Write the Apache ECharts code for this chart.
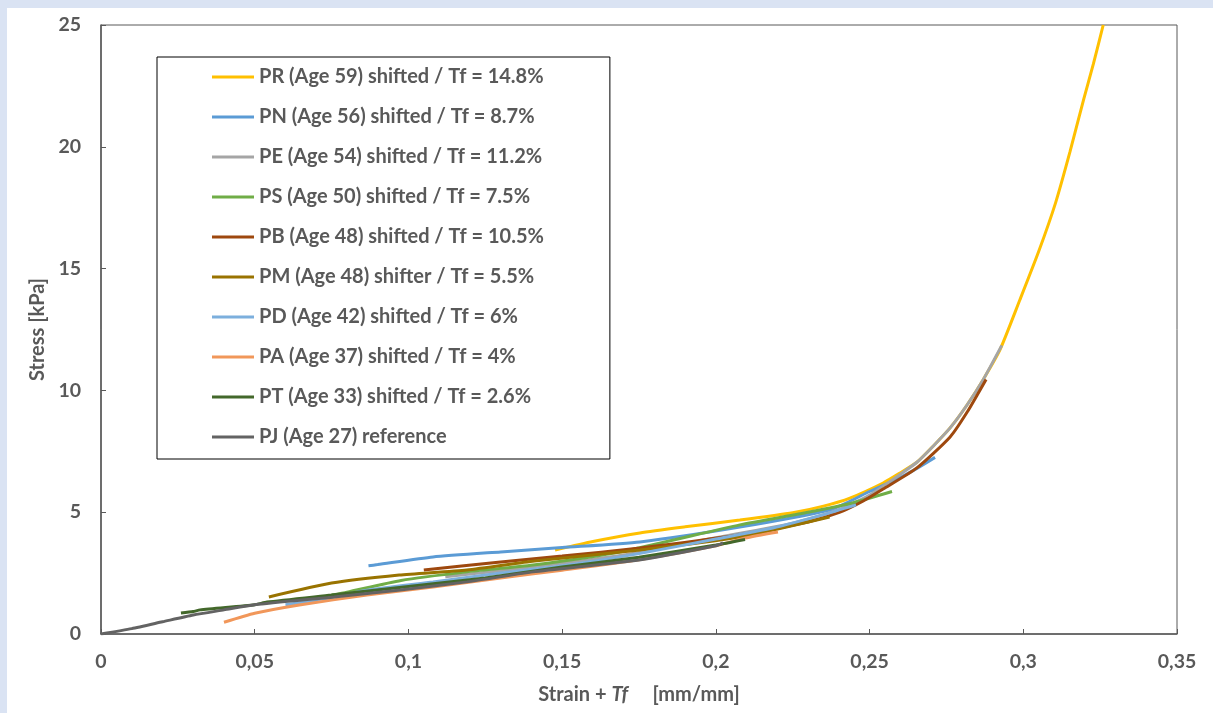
<!DOCTYPE html>
<html><head><meta charset="utf-8">
<script src="https://cdn.jsdelivr.net/npm/echarts@6/dist/echarts.min.js"></script>
<style>
html,body{margin:0;padding:0;background:#DAE3F3;width:1213px;height:713px;overflow:hidden}
#chart{position:absolute;left:7px;top:8px;width:1206px;height:705px;background:#fff}
</style></head><body><div id="chart"></div>
<script>
// ---- data (strain + Tf [mm/mm], stress [kPa]) ----
const seriesNames = [
  'PR (Age 59) shifted / Tf = 14.8%',
  'PN (Age 56) shifted / Tf = 8.7%',
  'PE (Age 54) shifted / Tf = 11.2%',
  'PS (Age 50) shifted / Tf = 7.5%',
  'PB (Age 48) shifted / Tf = 10.5%',
  'PM (Age 48) shifter / Tf = 5.5%',
  'PD (Age 42) shifted / Tf = 6%',
  'PA (Age 37) shifted / Tf = 4%',
  'PT (Age 33) shifted / Tf = 2.6%',
  'PJ (Age 27) reference'
];
const PR = [[0.1477,3.45],[0.160,3.80],[0.1753,4.15],[0.190,4.40],[0.2078,4.68],[0.225,4.98],[0.235,5.25],[0.2436,5.58],[0.2544,6.20],[0.2599,6.61],[0.2654,7.05],[0.2706,7.70],[0.2762,8.46],[0.2817,9.40],[0.2869,10.43],[0.2924,11.66],[0.2989,13.72],[0.3050,15.70],[0.3105,17.70],[0.3152,19.80],[0.3196,21.93],[0.3228,23.40],[0.3260,25.0]];
const PN = [[0.087,2.80],[0.090,2.85],[0.108,3.16],[0.130,3.37],[0.150,3.55],[0.1753,3.78],[0.2078,4.39],[0.2370,5.09],[0.2436,5.45],[0.2500,5.85],[0.2599,6.42],[0.2654,6.80],[0.2713,7.25]];
const PE = [[0.112,2.35],[0.130,2.60],[0.150,2.90],[0.175,3.35],[0.200,3.95],[0.225,4.55],[0.240,5.10],[0.250,5.70],[0.2599,6.55],[0.2654,7.05],[0.2706,7.70],[0.2762,8.46],[0.2817,9.40],[0.2869,10.43],[0.2930,11.85]];
const PS = [[0.075,1.60],[0.080,1.72],[0.0976,2.20],[0.119,2.55],[0.1405,2.83],[0.170,3.40],[0.2078,4.48],[0.230,5.00],[0.245,5.40],[0.2573,5.85]];
const PB = [[0.105,2.63],[0.130,2.96],[0.150,3.20],[0.1753,3.53],[0.2078,4.07],[0.2300,4.60],[0.2404,5.00],[0.2478,5.45],[0.2544,5.95],[0.2654,6.82],[0.2762,8.09],[0.2817,9.10],[0.2879,10.45]];
const PM = [[0.0546,1.52],[0.075,2.09],[0.097,2.42],[0.119,2.63],[0.141,3.00],[0.1753,3.45],[0.2078,3.98],[0.2370,4.80]];
const PD = [[0.060,1.20],[0.075,1.50],[0.0865,1.80],[0.108,2.14],[0.130,2.50],[0.150,2.80],[0.175,3.30],[0.200,3.90],[0.2185,4.35],[0.235,4.90],[0.2456,5.30]];
const PA = [[0.040,0.48],[0.050,0.85],[0.0645,1.19],[0.0865,1.60],[0.108,1.93],[0.130,2.30],[0.150,2.62],[0.175,3.05],[0.200,3.62],[0.2095,3.94],[0.2202,4.19]];
const PT = [[0.026,0.86],[0.030,0.92],[0.0322,0.99],[0.050,1.20],[0.054,1.31],[0.075,1.60],[0.100,1.95],[0.125,2.30],[0.150,2.75],[0.175,3.15],[0.200,3.65],[0.2095,3.88]];
const PJ = [[0,0],[0.010,0.22],[0.020,0.50],[0.030,0.78],[0.040,0.99],[0.050,1.20],[0.0758,1.52],[0.0973,1.81],[0.119,2.14],[0.1405,2.55],[0.175,3.04],[0.200,3.62],[0.2023,3.74]];
const seriesData = [PR, PN, PE, PS, PB, PM, PD, PA, PT, PJ];
const xTicks = { min: 0, max: 0.35, step: 0.05 };
const yTicks = { min: 0, max: 25, step: 5 };

// ---- styles ----
const seriesColors = ['#FFC000','#5B9BD5','#A5A5A5','#70AD47','#9E480E','#997300','#7CAFDD','#F1975A','#43682B','#636363'];
const FONT = 'Lato';
const TXT = '#595959';
const fmt = v => String(+(+v).toFixed(2)).replace('.', ',');

const chart = echarts.init(document.getElementById('chart'), null, {renderer:'canvas'});
chart.setOption({
  animation: false,
  backgroundColor: '#ffffff',
  grid: { left: 94, right: 36, top: 17, bottom: 79, show: true, borderColor: '#595959', borderWidth: 1, backgroundColor: 'transparent' },
  legend: {
    orient: 'vertical', left: 150, top: 49,
    padding: [10, 66, 12, 55], itemGap: 20, itemWidth: 42, itemHeight: 3,
    icon: 'rect',
    borderColor: '#000', borderWidth: 1, backgroundColor: '#fff',
    textStyle: { fontFamily: FONT, fontWeight: 'bold', fontSize: 20, lineHeight: 20, color: TXT },
    data: seriesNames
  },
  xAxis: {
    type: 'value', min: xTicks.min, max: xTicks.max, interval: xTicks.step,
    axisLine: { lineStyle: { color: '#595959', width: 1.5 } },
    axisTick: { inside: true, length: 5, lineStyle: { color: '#595959' } },
    axisLabel: { margin: 18, formatter: fmt, fontFamily: FONT, fontWeight: 'bold', fontSize: 19.5, color: TXT },
    splitLine: { show: false },
    name: '{a|Strain + }{b|Tf}{a|     [mm/mm]}', nameLocation: 'middle', nameGap: 51,
    nameTextStyle: { fontFamily: FONT, fontWeight: 'bold', fontSize: 20, color: TXT,
      rich: { a: { fontFamily: FONT, fontWeight: 'bold', fontSize: 20, color: TXT },
              b: { fontFamily: FONT, fontWeight: 'bold', fontStyle: 'italic', fontSize: 20, color: TXT } } }
  },
  yAxis: {
    type: 'value', min: yTicks.min, max: yTicks.max, interval: yTicks.step,
    axisLine: { show: true, lineStyle: { color: '#595959', width: 1.5 } },
    axisTick: { show: true, inside: true, length: 5, lineStyle: { color: '#595959' } },
    axisLabel: { margin: 20, formatter: fmt, fontFamily: FONT, fontWeight: 'bold', fontSize: 19.5, color: TXT },
    splitLine: { show: false },
    name: 'Stress [kPa]', nameLocation: 'middle', nameGap: 51, nameRotate: 90,
    nameTextStyle: { fontFamily: FONT, fontWeight: 'bold', fontSize: 20, color: TXT }
  },
  series: seriesNames.map((n, i) => ({
    name: n, type: 'line', data: seriesData[i], symbol: 'none', smooth: 0.2,
    clip: true,
    lineStyle: { width: 3, color: seriesColors[i] }, itemStyle: { color: seriesColors[i] }
  }))
});
</script></body></html>
